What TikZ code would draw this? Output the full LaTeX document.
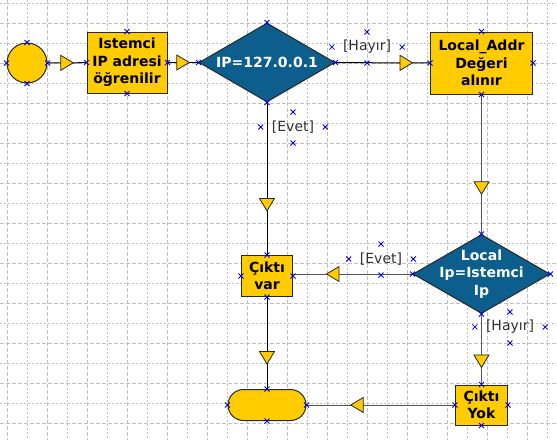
\documentclass[tikz,border=0pt]{standalone}
\usepackage{fontspec}
\setmainfont{DejaVu Sans}
\usetikzlibrary{shapes.geometric,decorations.markings}
\definecolor{ylw}{RGB}{255,204,0}
\definecolor{dblue}{RGB}{12,94,140}
\definecolor{gridc}{RGB}{192,192,192}
\definecolor{outl}{RGB}{40,40,40}
\definecolor{grayline}{RGB}{85,85,85}
\definecolor{lblc}{RGB}{50,50,50}
\definecolor{handle}{RGB}{0,0,235}
\tikzset{
  boxfont/.style={font=\fontsize{14}{17.5}\selectfont\bfseries},
  box/.style={draw=outl, fill=ylw, line width=1pt, inner sep=0pt, align=center, boxfont},
  startc/.style={circle, draw=outl, fill=ylw, line width=1pt, inner sep=0pt, minimum size=40pt},
  term/.style={draw=outl, fill=ylw, line width=1pt, inner sep=0pt, rounded corners=15.5pt, minimum width=78pt, minimum height=31pt},
  dia/.style={diamond, draw=outl, fill=dblue, line width=1pt, inner sep=0pt},
  dtext/.style={text=white, align=center, inner sep=0pt, boxfont},
  lbl/.style={text=lblc, inner sep=0pt, font=\fontsize{14}{17}\selectfont},
  conn/.style={line width=1pt, draw=black},
  conngray/.style={line width=1pt, draw=grayline},
  tri/.style={postaction={decorate}, decoration={markings, mark=at position #1 with {\filldraw[fill=ylw, draw=outl, line width=0.8pt] (-6.25,-7.5) -- (6.25,0) -- (-6.25,7.5) -- cycle;}}},
  hx/.style={draw=handle, line width=0.8pt},
  hm/.pic={\draw[hx] (-2.5,-2.5) -- (2.5,2.5) (-2.5,2.5) -- (2.5,-2.5);},
  majorgrid/.style={draw=gridc, line width=1pt, dash pattern=on 4pt off 2pt},
  minorgrid/.style={draw=gridc, line width=1pt, dash pattern=on 1.5pt off 2.5pt},
}
\begin{document}
\begin{tikzpicture}[x=1pt,y=-1pt]
\useasboundingbox (0,0) rectangle (557,440);
\fill[white] (0,0) rectangle (557,440);
% grid
\foreach \k in {0,...,13} {
  \draw[majorgrid] (7+40*\k,0) -- (7+40*\k,440);
  \draw[minorgrid] (27+40*\k,0) -- (27+40*\k,440);
}
\foreach \k in {0,...,10} {
  \draw[minorgrid] (0,3+40*\k) -- (557,3+40*\k);
  \draw[majorgrid] (0,23+40*\k) -- (557,23+40*\k);
}
% nodes
\node[startc] (c) at (27,63) {};
\node[box, minimum width=80pt, minimum height=61pt] (b1) at (127,62.5) {Istemci\\IP adresi\\öğrenilir};
\node[dia, minimum width=136pt, minimum height=79pt] (d1) at (267,62.5) {};
\node[dtext] (d1t) at (d1) {IP=127.0.0.1};
\node[box, minimum width=102pt, minimum height=62pt] (b2) at (481.5,63) {Local\_Addr\\Değeri\\alınır};
\node[dia, minimum width=137pt, minimum height=79pt] (d2) at (481.5,274) {};
\node[dtext] (d2t) at (d2) {Local\\Ip=Istemci\\Ip};
\node[box, minimum width=51pt, minimum height=41pt] (cv) at (267,276) {Çıktı\\var};
\node[box, minimum width=52pt, minimum height=40pt] (cy) at (481.5,405) {Çıktı\\Yok};
\node[term] (t) at (267,405) {};
% connectors
\draw[conn, tri=0.5] (c) -- (b1);
\draw[conn, tri=0.5] (b1) -- (d1);
\draw[conn, tri=0.75] (d1) -- (b2);
\draw[conngray, tri=0.67] (b2) -- (d2);
\draw[conn, tri=0.67] (d1) -- (cv);
\draw[conngray, tri=0.667] (d2.west) -- (d2.west -| cv.east);
\draw[conngray, tri=0.67] (d2) -- (cy);
\draw[conn, tri=0.66] (cv) -- (t);
\draw[conngray, tri=0.66] (cy) -- (t);
% labels
\node[lbl] (l1) at (367,47) {[Hayır]};
\node[lbl] (l2) at (293,127) {[Evet]};
\node[lbl] (l3) at (381,259) {[Evet]};
\node[lbl] (l4) at (510,327) {[Hayır]};
% handles
\foreach \n in {c,b1,d1,b2,d2,cv,cy,t} {
  \foreach \a in {north,south,east,west} {
    \pic at (\n.\a) {hm};
  }
}
\foreach \n in {l1,l2,l3,l4} {
  \pic at ([xshift=-11pt]\n.west) {hm};
  \pic at ([xshift=11pt]\n.east) {hm};
  \pic at ([yshift=15pt]\n.center) {hm};
  \pic at ([yshift=-16pt]\n.center) {hm};
}
\end{tikzpicture}
\end{document}
